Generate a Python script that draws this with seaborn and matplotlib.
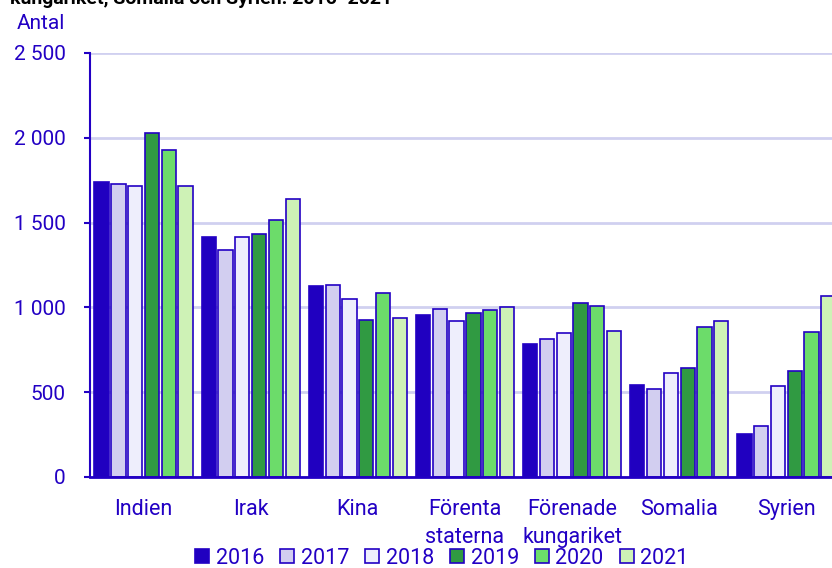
import numpy as np
import pandas as pd
import seaborn as sns
from matplotlib import pyplot as plt
from matplotlib.ticker import FuncFormatter, MultipleLocator
from matplotlib.patches import Patch

countries = ["Indien", "Irak", "Kina", "Förenta\nstaterna", "Förenade\nkungariket", "Somalia", "Syrien"]
years = ["2016", "2017", "2018", "2019", "2020", "2021"]

v2016 = [1740, 1417, 1126, 955, 786, 542, 252]
v2017 = [1727, 1338, 1132, 989, 812, 517, 301]
v2018 = [1716, 1417, 1050, 922, 849, 613, 537]
v2019 = [2027, 1431, 926, 969, 1026, 645, 627]
v2020 = [1927, 1517, 1085, 985, 1008, 886, 853]
v2021 = [1713, 1637, 938, 1001, 859, 918, 1069]

palette = ["#2000c0", "#d2cef0", "#eeeefc", "#309a42", "#6cdc6a", "#cef2b6"]
blue = "#2200c4"

rows = []
for year, vals in zip(years, [v2016, v2017, v2018, v2019, v2020, v2021]):
    for c, v in zip(countries, vals):
        rows.append({"land": c, "år": year, "antal": v})
data = pd.DataFrame(rows)

sns.set_theme(style="white")
plt.rcParams["font.family"] = ["Roboto", "DejaVu Sans"]

fig = plt.figure(figsize=(8.32, 5.68), dpi=100)
ax = fig.add_axes([90 / 832, 91 / 568, 750 / 832, 424 / 568])

sns.barplot(data=data, x="land", y="antal", hue="år", palette=palette, saturation=1,
            width=0.94, gap=0.15, edgecolor=blue, linewidth=1.2,
            legend=False, ax=ax)

ax.set_xlim(-0.5, 6.5)
ax.set_ylim(0, 2500)
ax.yaxis.set_major_locator(MultipleLocator(500))
ax.yaxis.set_major_formatter(FuncFormatter(lambda v, p: f"{int(v):,}".replace(",", " ")))
ax.grid(axis="y", color="#d0d0f0", linewidth=2)
ax.set_axisbelow(True)

for s in ["top", "right"]:
    ax.spines[s].set_visible(False)
ax.spines["left"].set_color(blue)
ax.spines["bottom"].set_color(blue)
ax.spines["left"].set_linewidth(1.5)
ax.spines["bottom"].set_linewidth(2)

ax.set_xticks(np.arange(-0.5, 7.0, 1.0), minor=True)
ax.tick_params(axis="x", which="major", length=0, pad=16, labelsize=15.5, labelcolor=blue)
ax.tick_params(axis="x", which="minor", length=6, width=1.5, color=blue, direction="out")
ax.tick_params(axis="y", which="major", length=4.5, width=1.5, color=blue, labelsize=15,
               labelcolor=blue, left=True, pad=13)
for lbl in ax.get_xticklabels():
    lbl.set_linespacing(1.45)
ax.set_xlabel("")
ax.set_ylabel("")

fig.text(17 / 832, 1 - 29 / 568, "Antal", fontsize=15, color=blue, va="baseline")
fig.text(10 / 832, 1 - 4 / 568, "kungariket, Somalia och Syrien. 2016\u22122021",
         fontsize=14, fontweight="bold", color="black", va="baseline")

handles = [Patch(facecolor=c, edgecolor=blue, linewidth=1.2) for c in palette]
fig.legend(handles, years, loc="center", bbox_to_anchor=(442 / 832, 1 - 558 / 568),
           ncol=6, frameon=False, fontsize=15.5, labelcolor=blue,
           handlelength=0.65, handleheight=0.65, handletextpad=0.3, columnspacing=0.75,
           borderpad=0)

fig.savefig("out.png", dpi=100)
